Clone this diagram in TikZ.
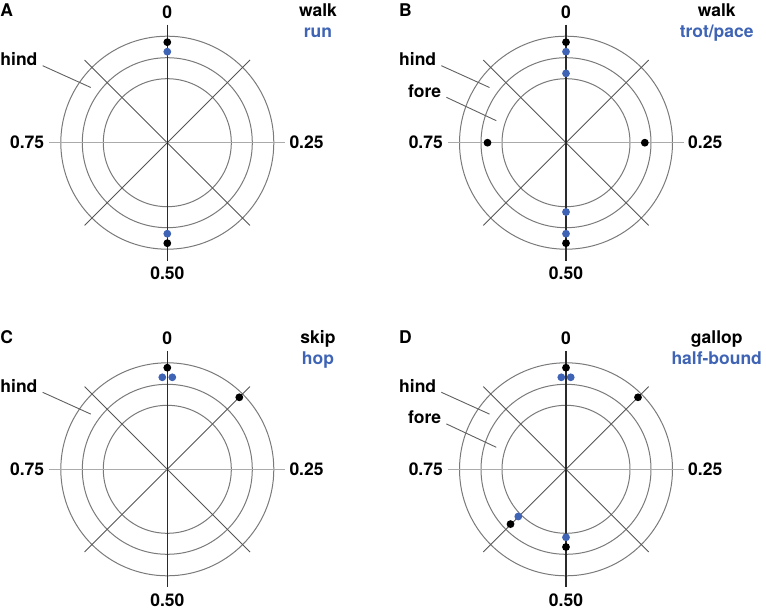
\documentclass[tikz,border=0pt]{standalone}
\usepackage{fontspec}
\setmainfont{TeX Gyre Heros}
\definecolor{dotblue}{HTML}{3F64B5}
\definecolor{ringgray}{HTML}{7A7A7A}
\definecolor{diaggray}{HTML}{555555}
\definecolor{hgray}{HTML}{ABABAB}
\definecolor{vdark}{HTML}{2A2A2A}
\definecolor{leadgray}{HTML}{606060}
\newcommand\gaitgrid[1]{%
  \draw[ring] (0,0) circle[radius=106.5] (0,0) circle[radius=85] (0,0) circle[radius=64];
  \draw[diag] (-82.7,-82.7) -- (82.7,82.7) (-82.7,82.7) -- (82.7,-82.7);
  \draw[hspoke] (-118,0) -- (118,0);
  \draw[vspoke] (0,-118) -- (0,118);
  \node[lab,anchor=south] (#1-p0) at (0,-124) {0};
  \node[lab,anchor=west] (#1-p25) at (122,0) {0.25};
  \node[lab,anchor=north] (#1-p50) at (0,124) {0.50};
  \node[lab,anchor=east] (#1-p75) at (-123,0) {0.75};
}
\newcommand\gaithead[4]{% name, letter, black title, blue title
  \node[lab,anchor=base west] (#1-letter) at (-167,-126) {#2};
  \node[lab,anchor=base] (#1-t1) at (150.7,-126) {#3};
  \node[lab,anchor=base,text=dotblue] (#1-t2) at (150.7,-105.3) {#4};
  \node[lab,anchor=base west] (#1-hind) at (-167,-77) {hind};
  \coordinate (#1-hindtip) at (-76.5,-55.2);
  \draw[leader] ([xshift=5bp]#1-hind.base east) -- (#1-hindtip);
}
\newcommand\gaitfore[1]{%
  \node[lab,anchor=base west] (#1-fore) at (-158,-45.4) {fore};
  \coordinate (#1-foretip) at (-69.7,-22);
  \draw[leader] ([xshift=5bp]#1-fore.base east) -- (#1-foretip);
}
\begin{document}
\begin{tikzpicture}[x=1bp,y=-1bp,
  ring/.style={draw=ringgray,line width=1bp},
  diag/.style={draw=diaggray,line width=0.9bp},
  hspoke/.style={draw=hgray,line width=1.1bp},
  vspoke/.style={draw=vdark,line width=1.2bp},
  leader/.style={draw=leadgray,line width=0.9bp},
  lab/.style={inner sep=0pt,font=\fontsize{17.5bp}{21bp}\selectfont\bfseries},
  bdot/.style={circle,fill=black,inner sep=0pt,minimum size=7.8bp},
  udot/.style={circle,fill=dotblue,inner sep=0pt,minimum size=7.8bp}]
\useasboundingbox (0,0) rectangle (766,609);
% Panel A
\begin{scope}[shift={(167.3,142.7)}]
  \gaitgrid{A}
  \gaithead{A}{A}{walk}{run}
  \node[bdot] (A-h0) at (0,-100.5) {};
  \node[udot] (A-u0) at (0,-91) {};
  \node[udot] (A-u50) at (0,91) {};
  \node[bdot] (A-h50) at (0,100.5) {};
\end{scope}
% Panel B
\begin{scope}[shift={(566,142.7)}]
  \gaitgrid{B}
  \gaithead{B}{B}{walk}{trot/pace}
  \gaitfore{B}
  \node[bdot] (B-h0) at (0,-100.5) {};
  \node[udot] (B-u0) at (0,-91) {};
  \node[udot] (B-f0) at (0,-69.3) {};
  \node[bdot] (B-f25) at (78.8,0) {};
  \node[bdot] (B-f75) at (-78.5,0) {};
  \node[udot] (B-f50) at (0,69.3) {};
  \node[udot] (B-u50) at (0,91) {};
  \node[bdot] (B-h50) at (0,100.5) {};
\end{scope}
% Panel C
\begin{scope}[shift={(167.3,469.3)}]
  \gaitgrid{C}
  \gaithead{C}{C}{skip}{hop}
  \node[bdot] (C-h0) at (0,-101.6) {};
  \node[udot] (C-u1) at (-5,-92) {};
  \node[udot] (C-u2) at (5,-92) {};
  \node[bdot] (C-h12) at (72,-72) {};
\end{scope}
% Panel D
\begin{scope}[shift={(566,469.3)}]
  \gaitgrid{D}
  \gaithead{D}{D}{gallop}{half-bound}
  \gaitfore{D}
  \node[bdot] (D-h0) at (0,-101.6) {};
  \node[udot] (D-u1) at (-4.7,-92) {};
  \node[udot] (D-u2) at (4.7,-92) {};
  \node[bdot] (D-h12) at (72,-72) {};
  \node[udot] (D-f62u) at (-47.7,47.2) {};
  \node[bdot] (D-f62) at (-55.5,54.8) {};
  \node[udot] (D-f50u) at (0,68) {};
  \node[bdot] (D-f50) at (0,77.7) {};
\end{scope}
\end{tikzpicture}
\end{document}
